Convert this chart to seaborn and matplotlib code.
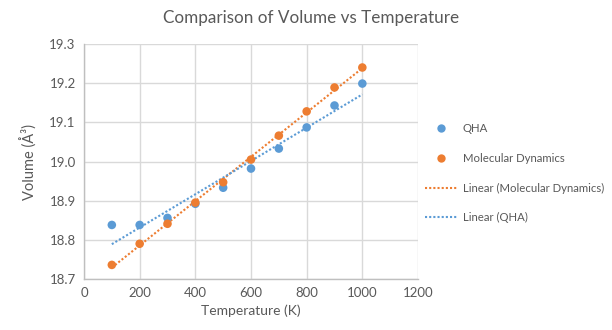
import numpy as np
import pandas as pd
import matplotlib
matplotlib.use("Agg")
import matplotlib.pyplot as plt
import seaborn as sns
from matplotlib.lines import Line2D

temperature = [100, 200, 300, 400, 500, 600, 700, 800, 900, 1000]
qha = [18.838, 18.838, 18.856, 18.892, 18.933, 18.982, 19.033, 19.087, 19.143, 19.199]
md = [18.736, 18.790, 18.841, 18.895, 18.947, 19.005, 19.066, 19.128, 19.189, 19.240]
x_ticks = [0, 200, 400, 600, 800, 1000, 1200]
y_ticks = [18.7, 18.8, 18.9, 19.0, 19.1, 19.2, 19.3]

BLUE = "#5B9BD5"
ORANGE = "#ED7D31"
GRAY_TXT = "#595959"

sns.set_theme(style="white")
plt.rcParams["font.family"] = ["Lato", "DejaVu Sans"]

df = pd.DataFrame({"T": temperature * 2,
                   "V": qha + md,
                   "series": ["QHA"] * len(qha) + ["Molecular Dynamics"] * len(md)})

fig = plt.figure(figsize=(6.12, 3.30), dpi=100)
ax = fig.add_axes([84 / 612, 1 - 279 / 330, (418 - 84) / 612, (279 - 44) / 330])

DOT = (0, (1, 1.0))

# trendlines
t = np.array(temperature, dtype=float)
fit_df = []
for name, vals in [("Linear (Molecular Dynamics)", md), ("Linear (QHA)", qha)]:
    p = np.polyfit(t, vals, 1)
    fit_df.append(pd.DataFrame({"T": t, "V": np.polyval(p, t), "series": name}))
fit_df = pd.concat(fit_df)
sns.lineplot(data=fit_df, x="T", y="V", hue="series",
             palette={"Linear (Molecular Dynamics)": ORANGE, "Linear (QHA)": BLUE},
             linestyle=DOT, linewidth=1.5, ax=ax, legend=False, zorder=3)

sns.scatterplot(data=df, x="T", y="V", hue="series",
                palette={"QHA": BLUE, "Molecular Dynamics": ORANGE},
                s=38, edgecolor="none", ax=ax, legend=False, zorder=4)

ax.set_xlim(0, 1200)
ax.set_ylim(18.7, 19.3)
ax.set_xticks(x_ticks)
ax.set_yticks(y_ticks)
ax.set_yticklabels([f"{v:.1f}" for v in y_ticks])
ax.grid(True, color="#D9D9D9", linewidth=1)
ax.set_axisbelow(True)
for side in ["top", "right"]:
    ax.spines[side].set_visible(False)
for side in ["left", "bottom"]:
    ax.spines[side].set_color("#BFBFBF")
    ax.spines[side].set_linewidth(1)
ax.tick_params(axis="both", length=0, labelsize=9.5, labelcolor=GRAY_TXT, pad=6)
ax.set_xlabel("Temperature (K)", fontsize=10, color=GRAY_TXT, labelpad=4)
ax.set_ylabel("Volume (Å³)", fontsize=10.5, color=GRAY_TXT, labelpad=8)

fig.suptitle("Comparison of Volume vs Temperature", x=0.508, y=0.97,
             fontsize=12.3, color=GRAY_TXT)

handles = [
    Line2D([], [], marker="o", linestyle="none", color=BLUE, markersize=6, markeredgewidth=0),
    Line2D([], [], marker="o", linestyle="none", color=ORANGE, markersize=6, markeredgewidth=0),
    Line2D([], [], color=ORANGE, linestyle=DOT, linewidth=1.5),
    Line2D([], [], color=BLUE, linestyle=DOT, linewidth=1.5),
]
labels = ["QHA", "Molecular Dynamics", "Linear (Molecular Dynamics)", "Linear (QHA)"]
leg = fig.legend(handles, labels, loc="upper left", bbox_to_anchor=(425 / 612, 1 - 123 / 330),
                 frameon=False, fontsize=8.2, labelspacing=1.65, handlelength=2.85,
                 handletextpad=0.45, borderpad=0, borderaxespad=0, labelcolor=GRAY_TXT)

fig.savefig("out.png", dpi=100)
